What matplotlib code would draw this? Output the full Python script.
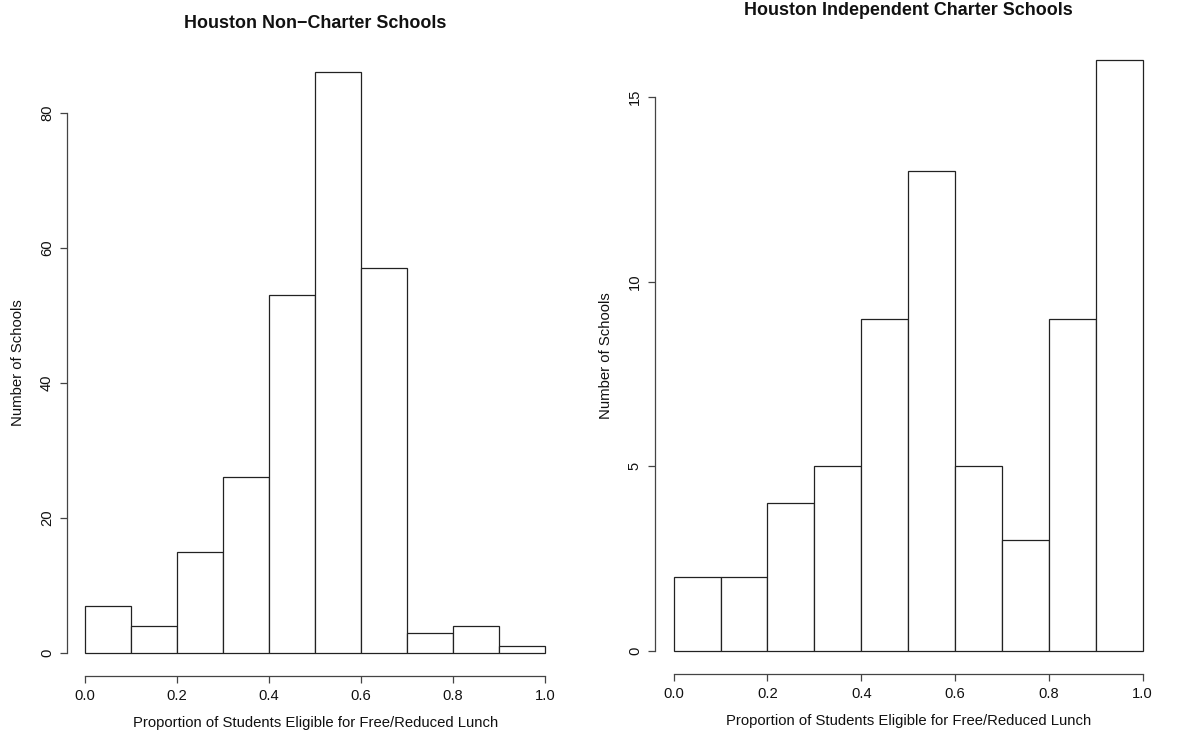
import matplotlib
matplotlib.use("Agg")
import matplotlib.pyplot as plt
import numpy as np

plt.rcParams['font.family'] = ['Liberation Sans', 'DejaVu Sans']

bin_edges = [0.0, 0.1, 0.2, 0.3, 0.4, 0.5, 0.6, 0.7, 0.8, 0.9, 1.0]
noncharter_counts = [7, 4, 15, 26, 53, 86, 57, 3, 4, 1]
charter_counts = [2, 2, 4, 5, 9, 13, 5, 3, 9, 16]
x_ticks = [0.0, 0.2, 0.4, 0.6, 0.8, 1.0]
x_tick_labels = ["0.0", "0.2", "0.4", "0.6", "0.8", "1.0"]
left_y_ticks = [0, 20, 40, 60, 80]
right_y_ticks = [0, 5, 10, 15]
left_title = "Houston Non\u2212Charter Schools"
right_title = "Houston Independent Charter Schools"
x_label = "Proportion of Students Eligible for Free/Reduced Lunch"
y_label = "Number of Schools"

W, H = 1185, 736
fig = plt.figure(figsize=(W / 100, H / 100), dpi=100)

def px2pt(p):
    return p * 72 / 100

def r_hist(rect, counts, yticks, title):
    ax = fig.add_axes(rect)
    edges = np.array(bin_edges)
    ax.bar(edges[:-1], counts, width=np.diff(edges), align='edge',
           facecolor='white', edgecolor='#222222', linewidth=0.9)
    ymax = max(counts)
    ax.set_xlim(-0.04, 1.04)
    ax.set_ylim(-0.04 * ymax, 1.04 * ymax)
    for s in ['top', 'right']:
        ax.spines[s].set_visible(False)
    ax.spines['left'].set_bounds(yticks[0], yticks[-1])
    ax.spines['bottom'].set_bounds(0, 1)
    for s in ['left', 'bottom']:
        ax.spines[s].set_color('#444444')
        ax.spines[s].set_linewidth(0.9)
    ax.set_xticks(x_ticks)
    ax.set_xticklabels(x_tick_labels)
    ax.set_yticks(yticks)
    ax.set_yticklabels([str(v) for v in yticks], rotation=90, va='center')
    ax.tick_params(axis='both', length=px2pt(7), width=0.9, color='#444444',
                   labelsize=10.6, pad=px2pt(6), labelcolor='#111111')
    ax.annotate(title, xy=(0.5, 1), xycoords='axes fraction',
                xytext=(0, px2pt(26)), textcoords='offset points',
                ha='center', va='center', fontsize=12.9, fontweight='bold',
                color='#111111')
    ax.annotate(x_label, xy=(0.5, 0), xycoords='axes fraction',
                xytext=(0, -px2pt(47)), textcoords='offset points',
                ha='center', va='center', fontsize=10.7, color='#111111')
    ax.annotate(y_label, xy=(0, 0.5), xycoords='axes fraction',
                xytext=(-px2pt(49), 0), textcoords='offset points',
                ha='center', va='center', rotation=90, fontsize=10.7,
                color='#111111')
    return ax

r_hist([66.9 / W, 1 - 676.2 / H, (563.4 - 66.9) / W, (676.2 - 49.0) / H],
       noncharter_counts, left_y_ticks, left_title)
r_hist([654.9 / W, 1 - 674.3 / H, (1161.5 - 654.9) / W, (674.3 - 36.7) / H],
       charter_counts, right_y_ticks, right_title)

fig.savefig("out.png", dpi=100, facecolor='white')
